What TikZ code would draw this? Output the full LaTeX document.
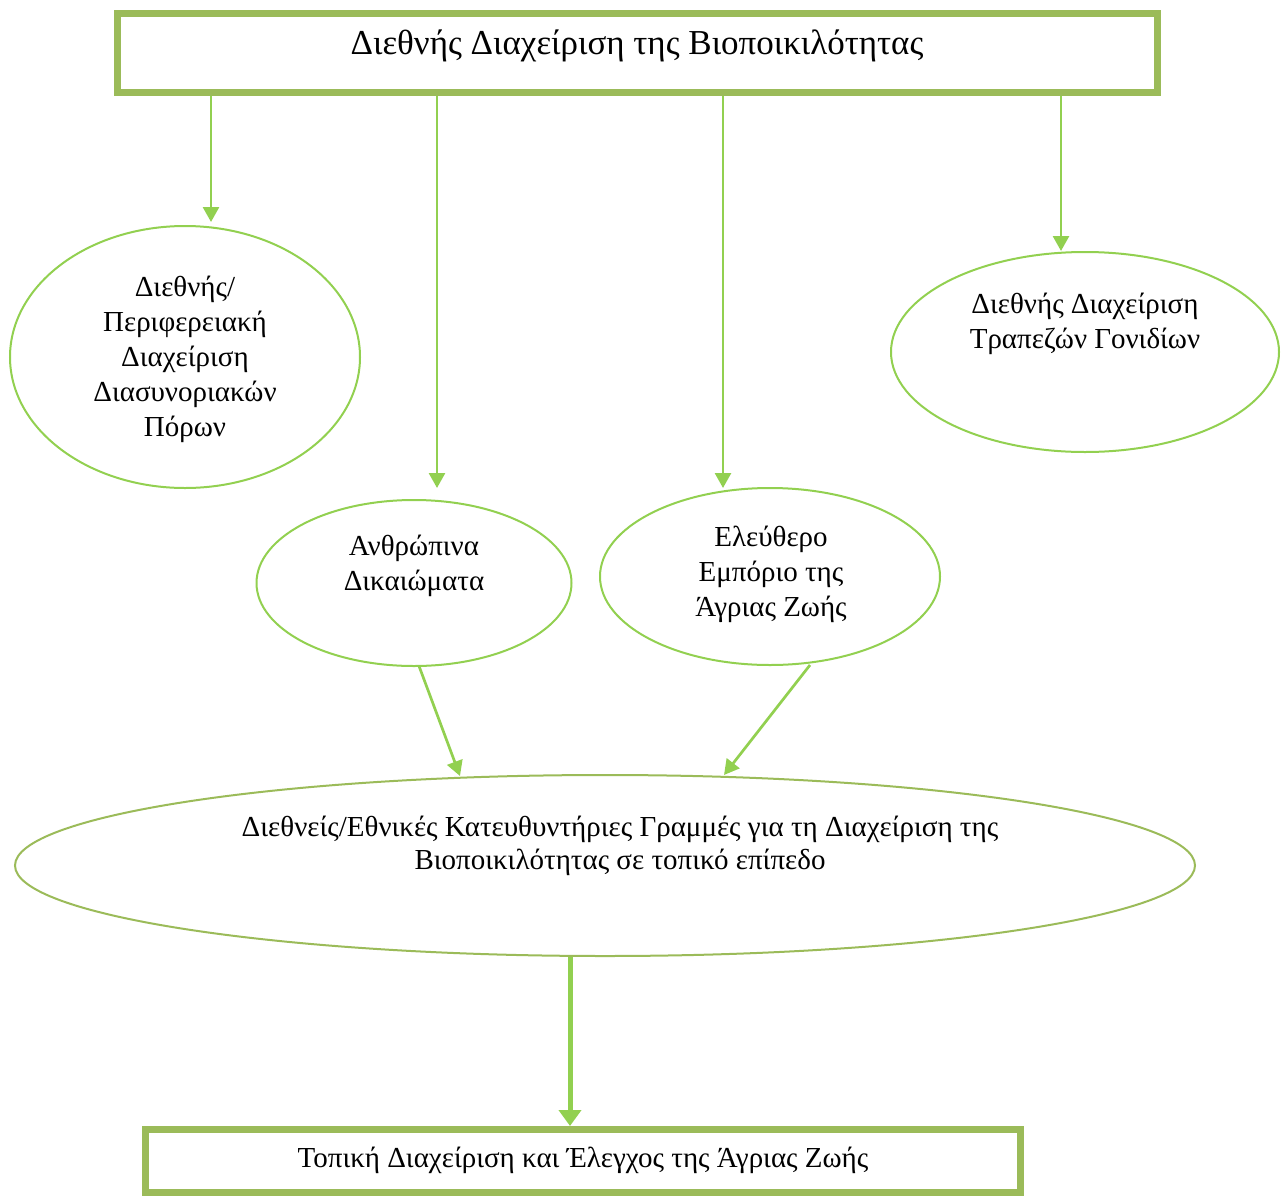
\documentclass[tikz,border=0pt]{standalone}
\usepackage{fontspec}
\setmainfont{Liberation Serif}
\usetikzlibrary{arrows.meta,shapes.geometric}
\definecolor{boxgreen}{HTML}{9BBB59}
\definecolor{lightgreen}{HTML}{92D050}
\begin{document}
\begin{tikzpicture}[x=1pt,y=-1pt,
  bodytext/.style={font=\fontsize{29}{35}\selectfont,align=center},
  framebox/.style={draw=boxgreen,line width=7pt,rectangle,inner sep=0pt},
  oval/.style={draw=lightgreen,line width=2pt,ellipse,inner sep=0pt},
  arr/.style={draw=lightgreen,line width=2.7pt,-{Triangle[width=16pt,length=15pt]}},
  bigarr/.style={draw=lightgreen,line width=5pt,-{Triangle[width=22pt,length=16pt]}}]
\useasboundingbox (0,0) rectangle (1288,1197);

% top and bottom frames
\node[framebox,minimum width=1040pt,minimum height=79pt,
  label={[font=\fontsize{35}{40}\selectfont,yshift=7pt]center:Διεθνής Διαχείριση της Βιοποικιλότητας}]
  (top) at (637,52.5) {};
\node[framebox,minimum width=875pt,minimum height=63pt,
  label={[bodytext,yshift=1pt]center:Τοπική Διαχείριση και Έλεγχος της Άγριας Ζωής}]
  (local) at (583,1161) {};

% ovals
\node[oval,minimum width=350pt,minimum height=262pt,
  label={[bodytext,yshift=-2pt]center:Διεθνής/\\Περιφερειακή\\Διαχείριση\\Διασυνοριακών\\Πόρων}]
  (cross) at (185,357) {};
\node[oval,minimum width=315pt,minimum height=166pt,
  label={[bodytext,yshift=17pt]center:Ανθρώπινα\\Δικαιώματα}]
  (rights) at (414,583) {};
\node[oval,minimum width=340pt,minimum height=177pt,
  label={[bodytext,xshift=1pt,yshift=2pt]center:Ελεύθερο\\Εμπόριο της\\Άγριας Ζωής}]
  (trade) at (770,576.5) {};
\node[oval,minimum width=388pt,minimum height=200pt,
  label={[bodytext,yshift=28pt]center:Διεθνής Διαχείριση\\Τραπεζών Γονιδίων}]
  (genes) at (1085,352) {};
\node[oval,draw=boxgreen,minimum width=1180pt,minimum height=181pt,
  label={[bodytext,font=\fontsize{29}{33}\selectfont,xshift=15pt,yshift=20pt]center:Διεθνείς/Εθνικές Κατευθυντήριες Γραμμές για τη Διαχείριση της\\Βιοποικιλότητας σε τοπικό επίπεδο}]
  (guide) at (605,865.5) {};

% arrow end points
\coordinate (c1) at (211,222);
\coordinate (c2) at (437,488);
\coordinate (c3) at (723,488);
\coordinate (c4) at (1061,251);
\coordinate (s2) at (419,666);
\coordinate (e2) at (460,776);
\coordinate (s3) at (810,665);
\coordinate (e3) at (724,775);

\draw[arr] (top.south -| c1) -- (c1);
\draw[arr] (top.south -| c2) -- (c2);
\draw[arr] (top.south -| c3) -- (c3);
\draw[arr] (top.south -| c4) -- (c4);
\draw[arr] (s2) -- (e2);
\draw[arr] (s3) -- (e3);
\draw[bigarr] (guide.south -| 570,0) -- (local.north -| 570,0);
\end{tikzpicture}
\end{document}
